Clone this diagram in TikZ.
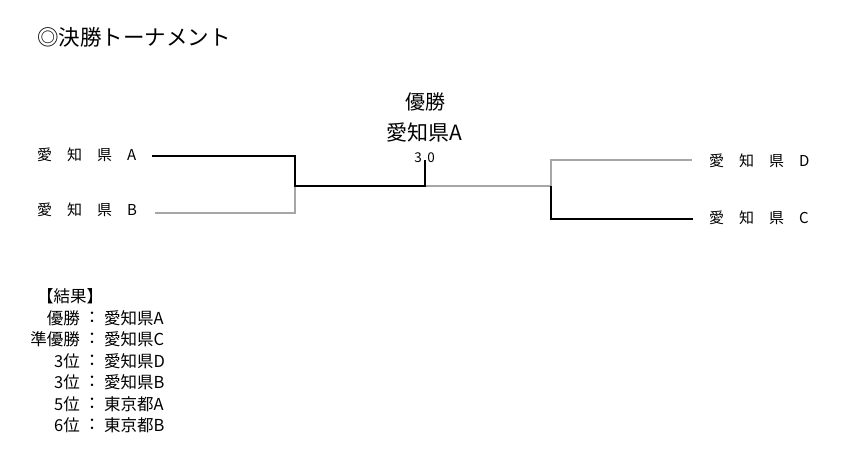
\documentclass[tikz,border=0pt]{standalone}
\usepackage{fontspec}
\setmainfont{Noto Sans CJK JP}
\begin{document}
\begin{tikzpicture}[x=1pt,y=-1pt,
  win/.style={draw=black,line width=1.6pt},
  lose/.style={draw=black!35,line width=1.1pt},
  team/.style={font=\fontsize{15}{16}\selectfont,anchor=west,inner sep=0pt},
  res/.style={font=\fontsize{16.5}{19}\selectfont,inner sep=0pt}]
\useasboundingbox (0,0) rectangle (847,467);
\node[anchor=west,inner sep=0pt,font=\fontsize{21.5}{23}\selectfont] (title) at (37,37) {◎決勝トーナメント};
% team labels
\node[team] (ta) at (37,155) {愛　知　県　A};
\node[team] (tb) at (37,210) {愛　知　県　B};
\node[team] (td) at (709,161) {愛　知　県　D};
\node[team] (tc) at (709,218) {愛　知　県　C};
% winner
\node[font=\fontsize{20}{22}\selectfont,inner sep=0pt] (yusho) at (425,102) {優勝};
\node[font=\fontsize{21}{22}\selectfont,inner sep=0pt] (champ) at (424,133) {愛知県A};
\node[font=\fontsize{13.5}{14}\selectfont,inner sep=0pt] (s1) at (418,158) {3};
\node[font=\fontsize{13.5}{14}\selectfont,inner sep=0pt] (s2) at (431,158) {0};
% coordinates
\coordinate (a0) at (152,156);
\coordinate (a1) at (295,156);
\coordinate (b0) at (155,213);
\coordinate (b1) at (295,213);
\coordinate (ab) at (295,186);
\coordinate (f) at (425,186);
\coordinate (ftop) at (425,160);
\coordinate (dc) at (551,186);
\coordinate (d1) at (551,160);
\coordinate (d0) at (692,160);
\coordinate (c1) at (551,219);
\coordinate (c0) at (693,219);
% bracket
\draw[lose] (b0) -- (b1) -- (ab);
\draw[lose] (f) -- (dc) -- (d1) -- (d0);
\draw[win] (a0) -- (a1) -- (ab) -- (f) -- (ftop);
\draw[win] (dc) -- (c1) -- (c0);
% results
\node[res,anchor=west] (rh) at (37,296) {【結果】};
\foreach \p/\t/\y [count=\i] in {優勝/愛知県A/318,準優勝/愛知県C/339,3位/愛知県D/361,3位/愛知県B/382,5位/東京都A/404,6位/東京都B/425}{
  \node[res,anchor=east] (rp\i) at (80,\y) {\p};
  \node[res] (rc\i) at (92,\y) {：};
  \node[res,anchor=west] (rt\i) at (104,\y) {\t};
}
\end{tikzpicture}
\end{document}
